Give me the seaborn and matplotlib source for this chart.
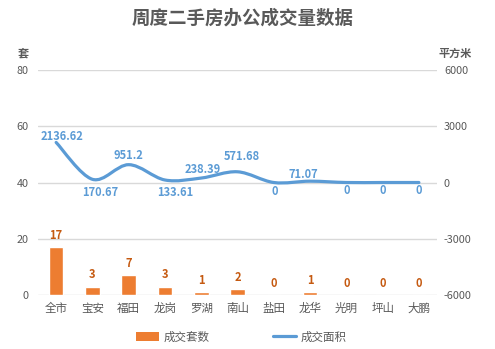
import numpy as np
import pandas as pd
import matplotlib
matplotlib.use("Agg")
import matplotlib.pyplot as plt
import seaborn as sns
from matplotlib.path import Path
from matplotlib.patches import PathPatch, Patch
from matplotlib.lines import Line2D

# Weekly second-hand office transactions by district
districts = ["全市", "宝安", "福田", "龙岗", "罗湖", "南山", "盐田", "龙华", "光明", "坪山", "大鹏"]
units_sold = [17, 3, 7, 3, 1, 2, 0, 1, 0, 0, 0]
floor_area = [2136.62, 170.67, 951.2, 133.61, 238.39, 571.68, 0, 71.07, 0, 0, 0]
area_labels = ["2136.62", "170.67", "951.2", "133.61", "238.39", "571.68", "0", "71.07", "0", "0", "0"]

# label placement for the area series (pixel offsets from each point)
area_label_offsets = [(6, 6), (8, -13), (0, 9), (10, -12), (1, 9), (4, 15),
                      (1, -9), (-7, 7), (0, -8), (0, -8), (0, -8)]

BAR_COLOR = "#ED7D31"
BAR_TEXT = "#C55A11"
LINE_COLOR = "#5B9BD5"
TEXT_GRAY = "#595959"
GRID = "#D9D9D9"

sns.set_theme(style="white")
plt.rcParams["font.family"] = ["Noto Sans CJK SC", "DejaVu Sans"]
plt.rcParams["axes.unicode_minus"] = False

fig = plt.figure(figsize=(4.95, 3.49), dpi=100)
ax = fig.add_axes([0.0768, 0.1547, 0.8061, 0.6447])

df = pd.DataFrame({"district": districts, "units": units_sold, "area": floor_area})
sns.barplot(data=df, x="district", y="units", color=BAR_COLOR, saturation=1,
            width=0.4, ax=ax, zorder=3)

ax.set_xlim(-0.5, len(districts) - 0.5)
ax.set_ylim(0, 80)
ax.set_yticks([0, 20, 40, 60, 80])
ax.set_xlabel("")
ax.set_ylabel("")
ax.grid(axis="y", color=GRID, lw=1)
ax.grid(axis="x", visible=False)
ax.set_axisbelow(True)
for s in ax.spines.values():
    s.set_visible(False)
ax.tick_params(axis="y", length=0, pad=6.5, labelsize=7.8, labelcolor=TEXT_GRAY)
ax.tick_params(axis="x", length=0, pad=5, labelsize=8.3, labelcolor=TEXT_GRAY)

for i, v in enumerate(units_sold):
    ax.annotate(str(v), (i, v), xytext=(0, 12), textcoords="offset pixels",
                ha="center", va="center", fontsize=8, fontweight="bold",
                color=BAR_TEXT)

# secondary axis: smoothed floor-area line
ax2 = ax.twinx()
ax2.set_ylim(-6000, 6000)
ax2.set_yticks([-6000, -3000, 0, 3000, 6000])
for s in ax2.spines.values():
    s.set_visible(False)
ax2.tick_params(axis="y", length=0, pad=5, labelsize=7.8, labelcolor=TEXT_GRAY)
ax2.grid(False)

xs = np.arange(len(districts), dtype=float)
ys = np.asarray(floor_area, dtype=float)
n = len(xs)
verts = [(xs[0], ys[0])]
codes = [Path.MOVETO]
for i in range(n - 1):
    p0 = np.array([xs[max(i - 1, 0)], ys[max(i - 1, 0)]])
    p1 = np.array([xs[i], ys[i]])
    p2 = np.array([xs[i + 1], ys[i + 1]])
    p3 = np.array([xs[min(i + 2, n - 1)], ys[min(i + 2, n - 1)]])
    c1 = p1 + (p2 - p0) / 6.0
    c2 = p2 - (p3 - p1) / 6.0
    verts += [tuple(c1), tuple(c2), tuple(p2)]
    codes += [Path.CURVE4] * 3
ax2.add_patch(PathPatch(Path(verts, codes), fill=False, edgecolor=LINE_COLOR,
                        lw=2.3, capstyle="round", joinstyle="round", zorder=4))

for i, (v, lab) in enumerate(zip(floor_area, area_labels)):
    dx, dy = area_label_offsets[i]
    ax2.annotate(lab, (i, v), xytext=(dx, dy), textcoords="offset pixels",
                 ha="center", va="center", fontsize=8, fontweight="bold",
                 color=LINE_COLOR, zorder=5)

# title and axis unit captions
fig.text(0.491, 1 - 18 / 349, "周度二手房办公成交量数据", ha="center", va="center",
         fontsize=13.3, fontweight="bold", color=TEXT_GRAY)
fig.text(23.5 / 495, 1 - 53 / 349, "套", ha="center", va="center",
         fontsize=8, fontweight="bold", color=TEXT_GRAY)
fig.text(455.5 / 495, 1 - 53 / 349, "平方米", ha="center", va="center",
         fontsize=8, fontweight="bold", color=TEXT_GRAY)

handles = [Patch(facecolor=BAR_COLOR, edgecolor="none", label="成交套数"),
           Line2D([0], [0], color=LINE_COLOR, lw=2.3, label="成交面积")]
leg = fig.legend(handles=handles, loc="center", bbox_to_anchor=(0.488, 1 - 337 / 349),
                 ncol=2, frameon=False, fontsize=8.3, handlelength=2.0,
                 handletextpad=0.4, columnspacing=5.5)
for t in leg.get_texts():
    t.set_color(TEXT_GRAY)

fig.savefig("out.png", dpi=100)
